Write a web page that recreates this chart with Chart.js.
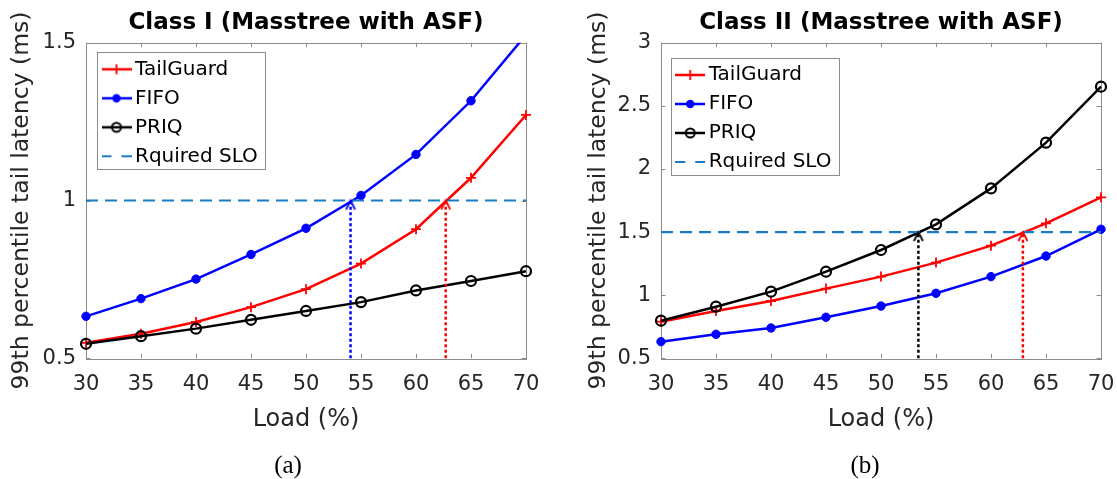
<!DOCTYPE html>
<html>
<head>
<meta charset="utf-8">
<script src="https://cdn.jsdelivr.net/npm/chart.js@4.4.1/dist/chart.umd.min.js"></script>
<style>
html, body { margin: 0; padding: 0; background: #fff; overflow: hidden; width: 1117px; height: 479px; }
canvas { position: absolute; top: 0; }
#chartA { left: 0; }
#chartB { left: 557px; }
.cap { position: absolute; top: 451px; font-family: 'Liberation Serif', serif; font-size: 25px; line-height: 28px; color: #000; transform: translateX(-50%); }
</style>
</head>
<body>
<canvas id="chartA" width="612" height="479"></canvas>
<canvas id="chartB" width="648" height="479"></canvas>
<div class="cap" style="left:288px">(a)</div>
<div class="cap" style="left:865px">(b)</div>
<script>
// load levels (x axis)
const loads = [30, 35, 40, 45, 50, 55, 60, 65, 70];
const xTicks = [30, 35, 40, 45, 50, 55, 60, 65, 70];

// Class I, 99th percentile latency (ms)
const c1TailGuard = [0.549, 0.578, 0.615, 0.662, 0.719, 0.800, 0.909, 1.072, 1.271];
const c1Fifo = [0.633, 0.689, 0.751, 0.829, 0.912, 1.016, 1.146, 1.316, 1.525];
const c1Priq = [0.546, 0.570, 0.594, 0.622, 0.650, 0.678, 0.715, 0.745, 0.776];
const c1Slo = 1.0;
const c1ArrowX = [54.05, 62.7]; // FIFO, TailGuard meet the SLO
const c1YTicks = [0.5, 1, 1.5];

// Class II
const c2TailGuard = [0.790, 0.875, 0.954, 1.052, 1.147, 1.258, 1.392, 1.569, 1.775];
const c2Fifo = [0.632, 0.690, 0.740, 0.825, 0.914, 1.015, 1.147, 1.310, 1.522];
const c2Priq = [0.798, 0.909, 1.028, 1.186, 1.358, 1.561, 1.846, 2.208, 2.652];
const c2Slo = 1.5;
const c2ArrowX = [53.4, 62.9]; // PRIQ, TailGuard meet the SLO
const c2YTicks = [0.5, 1, 1.5, 2, 2.5, 3];

const RED = '#ff0000', BLUE = '#0000ff', BLACK = '#000000', SLO_BLUE = '#1a7cc4';
const AXIS_GRAY = '#8c8c8c', TEXT = '#262626';

Chart.defaults.font.family = "'DejaVu Sans', sans-serif";

const pts = ys => loads.map((x, i) => ({ x: x, y: ys[i] }));

// legend samples: line with marker in the middle
function sample(color, marker) {
    const c = document.createElement('canvas');
    c.width = 30; c.height = 20;
    const g = c.getContext('2d');
    g.strokeStyle = color; g.fillStyle = color; g.lineWidth = 2.5;
    if (marker === 'dash') { g.lineWidth = 2; g.setLineDash([10, 10]); }
    g.beginPath(); g.moveTo(0, 10); g.lineTo(30, 10); g.stroke();
    g.setLineDash([]);
    if (marker === 'plus') {
        g.lineWidth = 1.8;
        g.beginPath(); g.moveTo(15, 5); g.lineTo(15, 15); g.stroke();
    } else if (marker === 'dot') {
        g.beginPath(); g.arc(15, 10, 4.2, 0, Math.PI * 2); g.fill();
    } else if (marker === 'ring') {
        g.lineWidth = 2;
        g.beginPath(); g.arc(15, 10, 4.5, 0, Math.PI * 2); g.stroke();
    }
    return c;
}

// open arrow head, tip at the centre of the image
function head(color) {
    const c = document.createElement('canvas');
    c.width = 12; c.height = 24;
    const g = c.getContext('2d');
    g.strokeStyle = color; g.lineWidth = 1.8;
    g.beginPath(); g.moveTo(1.5, 21); g.lineTo(6, 12); g.lineTo(10.5, 21); g.stroke();
    return c;
}

const legendSamples = [sample(RED, 'plus'), sample(BLUE, 'dot'), sample(BLACK, 'ring'), sample(SLO_BLUE, 'dash')];

const axesFrame = {
    id: 'axesFrame',
    afterLayout(chart, args, o) {
        const lg = chart.legend, a = chart.chartArea;
        lg.left = a.left + o.dx;
        lg.top = a.top + o.dy;
    },
    beforeDraw(chart, args, o) {
        const lg = chart.legend, ctx = chart.ctx;
        const bx = Math.round(lg.left - 2) + 0.5, by = Math.round(lg.top + 2) + 0.5;
        ctx.save();
        ctx.fillStyle = '#fff';
        ctx.strokeStyle = AXIS_GRAY;
        ctx.lineWidth = 1;
        ctx.fillRect(bx, by, o.boxW, o.boxH);
        ctx.strokeRect(bx, by, o.boxW, o.boxH);
        ctx.restore();
    },
    beforeDatasetsDraw(chart) {
        const { ctx, chartArea: a, scales: { x, y } } = chart;
        const t = 4.5;
        ctx.save();
        ctx.strokeStyle = AXIS_GRAY;
        ctx.lineWidth = 1;
        ctx.strokeRect(Math.round(a.left) + 0.5, Math.round(a.top) + 0.5, Math.round(a.right - a.left), Math.round(a.bottom - a.top));
        ctx.beginPath();
        x.ticks.forEach(tk => {
            const px = Math.round(x.getPixelForValue(tk.value)) + 0.5;
            ctx.moveTo(px, a.bottom); ctx.lineTo(px, a.bottom - t);
            ctx.moveTo(px, a.top); ctx.lineTo(px, a.top + t);
        });
        y.ticks.forEach(tk => {
            const py = Math.round(y.getPixelForValue(tk.value)) + 0.5;
            ctx.moveTo(a.left, py); ctx.lineTo(a.left + t, py);
            ctx.moveTo(a.right, py); ctx.lineTo(a.right - t, py);
        });
        ctx.stroke();
        ctx.restore();
    }
};

function makeChart(id, title, tg, fifo, priq, slo, arrowX, arrowColors, yTicks, side, yTitlePad, legendPos) {
    const clip = { left: 10, top: 0, right: 10, bottom: 10 };
    const arrow = (ax, color) => ({
        label: 'arrow',
        data: [{ x: ax, y: yTicks[0] }, { x: ax, y: slo }],
        borderColor: color, borderWidth: 2.5, borderDash: [3, 2.5],
        pointRadius: [0, 6], pointStyle: head(color), clip: clip, order: 1
    });
    return new Chart(document.getElementById(id), {
        type: 'line',
        data: {
            datasets: [
                { label: 'TailGuard', data: pts(tg), borderColor: RED, borderWidth: 2.5, pointStyle: 'cross',
                  pointRadius: 5, pointBorderWidth: 1.8, pointBorderColor: RED, clip: clip, order: 5 },
                { label: 'FIFO', data: pts(fifo), borderColor: BLUE, borderWidth: 2.5, pointStyle: 'circle',
                  pointRadius: 4.2, pointBorderWidth: 1, pointBorderColor: BLUE, pointBackgroundColor: BLUE, clip: clip, order: 4 },
                { label: 'PRIQ', data: pts(priq), borderColor: BLACK, borderWidth: 2.5, pointStyle: 'circle',
                  pointRadius: 5, pointBorderWidth: 2.2, pointBorderColor: BLACK, pointBackgroundColor: 'rgba(0,0,0,0)', clip: clip, order: 3 },
                { label: 'Rquired SLO', data: [{ x: loads[0], y: slo }, { x: loads[loads.length - 1], y: slo }],
                  borderColor: SLO_BLUE, borderWidth: 2.2, borderDash: [12, 7], pointRadius: 0, clip: clip, order: 2 },
                arrow(arrowX[0], arrowColors[0]),
                arrow(arrowX[1], arrowColors[1])
            ]
        },
        options: {
            responsive: false,
            animation: false,
            events: [],
            layout: { padding: 0 },
            scales: {
                x: {
                    type: 'linear', min: loads[0], max: loads[loads.length - 1],
                    afterBuildTicks: s => { s.ticks = xTicks.map(v => ({ value: v })); },
                    afterFit: s => { s.height = 120.7; },
                    grid: { display: false, drawTicks: false }, border: { display: false },
                    ticks: { padding: 14, color: TEXT, font: { size: 21 }, maxRotation: 0, autoSkip: false, callback: v => String(v) },
                    title: { display: true, text: 'Load (%)', color: TEXT, font: { size: 24 }, padding: { top: 0, bottom: 44.6 } }
                },
                y: {
                    min: yTicks[0], max: yTicks[yTicks.length - 1],
                    afterBuildTicks: s => { s.ticks = yTicks.map(v => ({ value: v })); },
                    afterFit: s => { s.width = side; },
                    grid: { display: false, drawTicks: false }, border: { display: false },
                    ticks: { padding: 10, color: TEXT, font: { size: 21 }, callback: v => String(v) },
                    title: { display: true, text: '99th percentile tail latency (ms)', color: TEXT, font: { size: 23.5 }, padding: { top: yTitlePad, bottom: 0 } }
                },
                y2: {
                    position: 'right', min: 0, max: 1,
                    afterFit: s => { s.width = side; },
                    grid: { display: false, drawTicks: false }, border: { display: false }, ticks: { display: false }
                }
            },
            plugins: {
                title: { display: true, text: title, color: BLACK, font: { size: 23, weight: 'bold' }, padding: { top: 9.2, bottom: 5.9 } },
                tooltip: { enabled: false },
                legend: {
                    position: 'chartArea', align: 'start',
                    labels: {
                        usePointStyle: true, pointStyleWidth: 17, padding: 9, color: BLACK, font: { size: 20 },
                        generateLabels: chart => Chart.defaults.plugins.legend.labels.generateLabels(chart).map(it =>
                            Object.assign(it, { pointStyle: legendSamples[it.datasetIndex] || it.pointStyle, rotation: 0, textAlign: 'left' })),
                        filter: it => it.text !== 'arrow',
                        sort: (a, b) => a.datasetIndex - b.datasetIndex
                    }
                },
                axesFrame: { dx: legendPos[0], dy: legendPos[1], boxW: 168, boxH: 117 }
            }
        },
        plugins: [axesFrame]
    });
}

makeChart('chartA', 'Class I (Masstree with ASF)', c1TailGuard, c1Fifo, c1Priq, c1Slo,
    c1ArrowX, [BLUE, RED], c1YTicks, 86, 8, [13, 7.6]);
makeChart('chartB', 'Class II (Masstree with ASF)', c2TailGuard, c2Fifo, c2Priq, c2Slo,
    c2ArrowX, [BLACK, RED], c2YTicks, 104, 27.6, [11.7, 13.3]);
</script>
</body>
</html>
